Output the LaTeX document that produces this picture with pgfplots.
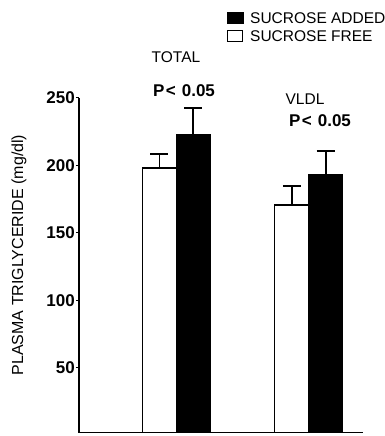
\documentclass[border=0pt]{standalone}
\usepackage{fontspec}
\setmainfont{Liberation Sans}
\usepackage{pgfplots}
\pgfplotsset{compat=1.18}
\newcommand{\pval}{P\kern1.5pt<\hspace{6pt}0.05}
\begin{document}
\begin{tikzpicture}[x=1pt,y=1pt]
\useasboundingbox (0,0) rectangle (385,436);
\begin{axis}[
  at={(79pt,3.4pt)}, anchor=south west,
  scale only axis, width=284pt, height=334.8pt,
  xmin=0.264, xmax=2.41, ymin=2, ymax=250,
  axis x line=bottom, axis y line=left,
  axis line style={line width=1.8pt, -},
  xtick=\empty,
  ytick={50,100,150,200,250},
  tick style={line width=0.8pt, black},
  y tick label style={font=\bfseries\fontsize{17}{20}\selectfont, inner sep=1pt},
  /pgf/number format/assume math mode=true,
  major tick length=3pt,
  tick align=outside,
  clip=false,
]
\addplot[ybar, bar width=0.257, fill=white, draw=black, line width=1.3pt,
  error bars/.cd, y dir=plus, y explicit,
  error bar style={line width=1.8pt},
  error mark=|,
  error mark options={mark size=9pt, line width=1.6pt}]
  coordinates {(0.872,198) +- (0,10.4) (1.872,170.6) +- (0,14.1)};
\addplot[ybar, bar width=0.257, fill=black, draw=black, line width=1.3pt,
  error bars/.cd, y dir=plus, y explicit,
  error bar style={line width=1.8pt},
  error mark=|,
  error mark options={mark size=9pt, line width=1.6pt}]
  coordinates {(1.128,222.4) +- (0,20) (2.128,192.8) +- (0,17.8)};
\end{axis}
% y label
\node[rotate=90, font=\fontsize{16}{18}\selectfont] at (19,181) {PLASMA TRIGLYCERIDE (mg/dl)};
% group labels
\node[font=\fontsize{15.5}{18}\selectfont] at (176,378.5) {TOTAL};
\node[font=\bfseries\fontsize{17}{19}\selectfont] at (184,345.5) {\pval};
\node[font=\fontsize{15.5}{18}\selectfont] at (305,337) {VLDL};
\node[font=\bfseries\fontsize{17}{19}\selectfont] at (320,315) {\pval};
% legend
\fill[black] (227,412) rectangle (244,424);
\node[anchor=west, font=\fontsize{15.5}{18}\selectfont, inner sep=0pt] at (250,418) {SUCROSE ADDED};
\draw[line width=1.2pt] (227.6,394.6) rectangle (242.4,405.4);
\node[anchor=west, font=\fontsize{15.5}{18}\selectfont, inner sep=0pt] at (250,400) {SUCROSE FREE};
\end{tikzpicture}
\end{document}
